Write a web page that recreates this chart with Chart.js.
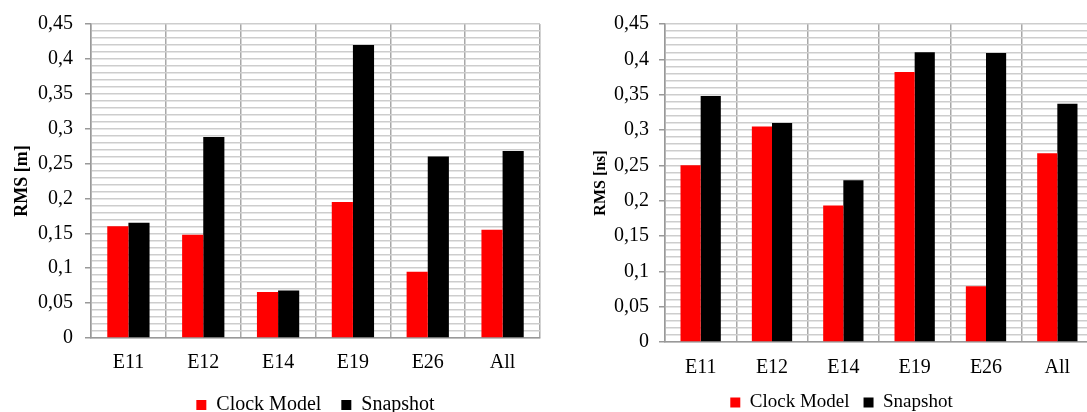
<!DOCTYPE html>
<html lang="en">
<head>
<meta charset="UTF-8">
<title>RMS chart</title>
<script src="https://cdn.jsdelivr.net/npm/chart.js"></script>
<style>
  html, body { margin: 0; padding: 0; background: #fff; overflow: hidden; width: 1087px; height: 412px; }
  canvas { position: absolute; top: 0; }
  #chartLeft { left: 0; }
  #chartRight { left: 590px; }
</style>
</head>
<body>
<canvas id="chartLeft" width="545" height="425"></canvas>
<canvas id="chartRight" width="503" height="422"></canvas>
<script>
const stations = ['E11', 'E12', 'E14', 'E19', 'E26', 'All'];
const seriesNames = ['Clock Model', 'Snapshot'];
const rmsMeterClock = [0.160, 0.148, 0.066, 0.195, 0.095, 0.155];
const rmsMeterSnap  = [0.165, 0.288, 0.068, 0.420, 0.260, 0.268];
const rmsNsClock    = [0.250, 0.305, 0.193, 0.382, 0.079, 0.267];
const rmsNsSnap     = [0.348, 0.310, 0.229, 0.410, 0.409, 0.337];
const yTickLabels = ['0', '0,05', '0,1', '0,15', '0,2', '0,25', '0,3', '0,35', '0,4', '0,45'];

const serif = "'Liberation Serif', 'Times New Roman', serif";

function isMajor(v) {
    return Math.round(v * 100) % 5 === 0;
}

function makeChart(id, clock, snap, o) {
    new Chart(document.getElementById(id), {
        type: 'bar',
        data: {
            labels: stations,
            datasets: [
                { label: seriesNames[0], data: clock, backgroundColor: '#ff0000', borderWidth: 0 },
                { label: seriesNames[1], data: snap, backgroundColor: '#000000', borderWidth: 0 }
            ]
        },
        options: {
            responsive: false,
            animation: false,
            layout: { padding: { top: o.top, right: o.right, left: 0, bottom: 0 } },
            datasets: { bar: { categoryPercentage: 0.565, barPercentage: 1 } },
            plugins: {
                tooltip: { enabled: false },
                legend: {
                    position: 'bottom',
                    fullSize: o.legendFull,
                    labels: {
                        boxWidth: 10, boxHeight: 10, padding: o.legendPad,
                        color: '#000',
                        font: { family: serif, size: o.legendSize }
                    }
                }
            },
            scales: {
                x: {
                    grid: { color: '#a8a8a8', lineWidth: 1.5, drawTicks: false, offset: true },
                    border: { color: '#999', width: 1.5 },
                    ticks: { color: '#000', padding: o.xPad, font: { family: serif, size: 20 } },
                    afterFit: s => { s.height = o.xHeight; }
                },
                y: {
                    min: 0, max: 0.45,
                    grid: {
                        color: '#cdcdcd', lineWidth: 1.5, tickLength: 6,
                        tickColor: c => (c.tick && isMajor(c.tick.value)) ? '#999' : 'rgba(0,0,0,0)'
                    },
                    border: { color: '#999', width: 1.5 },
                    ticks: {
                        stepSize: 0.01, autoSkip: false, color: '#000', padding: o.yPad,
                        font: { family: serif, size: 20 },
                        callback: v => isMajor(v) ? yTickLabels[Math.round(v * 100) / 5] : ''
                    },
                    title: {
                        display: true, text: o.title, color: '#000',
                        padding: { top: o.titlePad, bottom: 0 },
                        font: { family: serif, size: o.titleSize, weight: 'bold' }
                    },
                    afterFit: s => { s.width = o.yWidth; }
                }
            }
        }
    });
}

makeChart('chartLeft', rmsMeterClock, rmsMeterSnap, {
    top: 21, right: 5, legendFull: false, legendSize: 20, legendPad: 20,
    xPad: 13, xHeight: 37, yPad: 12, yWidth: 91,
    title: 'RMS [m]', titlePad: 12, titleSize: 18
});

makeChart('chartRight', rmsNsClock, rmsNsSnap, {
    top: 24, right: 0, legendFull: true, legendSize: 19, legendPad: 14,
    xPad: 14, xHeight: 37, yPad: 10, yWidth: 75,
    title: 'RMS [ns]', titlePad: 1, titleSize: 16
});
</script>
</body>
</html>
